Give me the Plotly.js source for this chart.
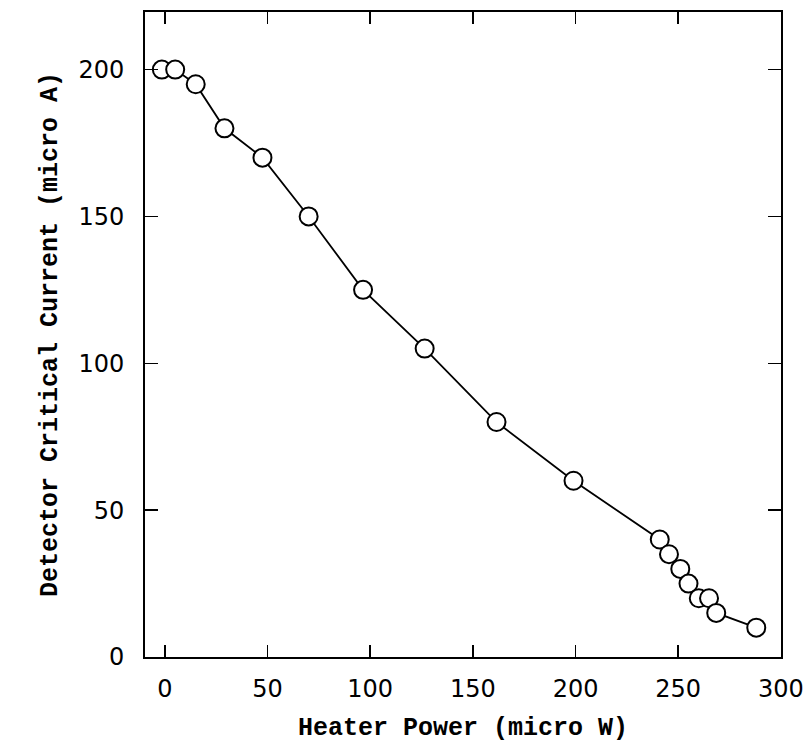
<!DOCTYPE html>
<html>
<head>
<meta charset="utf-8">
<script src="https://cdn.plot.ly/plotly-3.0.1.min.js"></script>
<style>html,body{margin:0;padding:0;background:#fff;}#chart{width:810px;height:750px;}</style>
</head>
<body>
<div id="chart"></div>
<script>
const heaterPower = [-1.5, 5, 15, 29, 47.5, 70, 96.5, 126.5, 161.5, 199, 241, 245.5, 251, 255, 260, 265, 268.5, 288];
const criticalCurrent = [200, 200, 195, 180, 170, 150, 125, 105, 80, 60, 40, 35, 30, 25, 20, 20, 15, 10];
const xTicks = [0, 50, 100, 150, 200, 250, 300];
const yTicks = [0, 50, 100, 150, 200];

const trace = {
  x: heaterPower,
  y: criticalCurrent,
  type: 'scatter',
  mode: 'lines+markers',
  line: {color: '#000', width: 1.8},
  marker: {symbol: 'circle', size: 18, color: '#fff', line: {color: '#000', width: 2}},
  showlegend: false,
  cliponaxis: false
};

const tickFont = {family: 'DejaVu Sans', size: 24, color: '#000'};
const titleFont = {family: 'Liberation Mono', size: 25, color: '#000', weight: 'bold'};

const layout = {
  width: 810, height: 750,
  margin: {l: 145, r: 29, t: 12, b: 93},
  paper_bgcolor: '#fff', plot_bgcolor: '#fff',
  xaxis: {
    range: [-9.7, 300.05],
    tickvals: xTicks, ticktext: xTicks.map(String),
    ticks: 'inside', ticklen: 12, tickwidth: 1.5, tickcolor: '#000',
    showline: true, linecolor: '#000', linewidth: 2, mirror: 'ticks',
    showgrid: false, zeroline: false,
    tickfont: tickFont, ticklabelstandoff: 9,
    title: {text: 'Heater Power (micro W)', font: titleFont, standoff: 16}
  },
  yaxis: {
    range: [0, 219.6],
    tickvals: yTicks, ticktext: yTicks.map(String),
    ticks: 'inside', ticklen: 13, tickwidth: 1.5, tickcolor: '#000',
    showline: true, linecolor: '#000', linewidth: 2, mirror: 'ticks',
    showgrid: false, zeroline: false,
    tickfont: tickFont, ticklabelstandoff: 14,
    title: {text: 'Detector Critical Current (micro A)', font: titleFont, standoff: 14}
  }
};

Plotly.newPlot('chart', [trace], layout, {displayModeBar: false, staticPlot: true});
</script>
</body>
</html>
